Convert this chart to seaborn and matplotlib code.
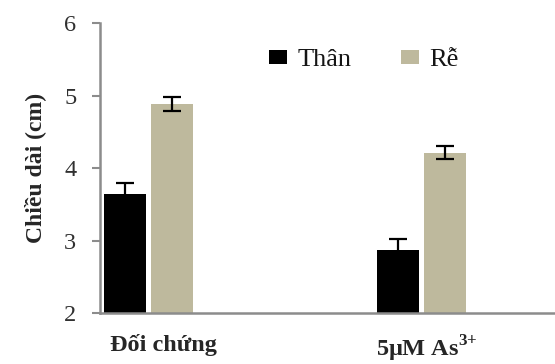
import matplotlib
matplotlib.use("Agg")
import matplotlib.pyplot as plt
import matplotlib.transforms as mtransforms
import seaborn as sns
import pandas as pd
import numpy as np

# Data
categories = ["Đối chứng", r"5μM As$^{\mathbf{3{+}}}$"]
series_names = ["Thân", "Rễ"]
than_values = [3.64, 2.87]
re_values = [4.88, 4.21]
than_err = [0.15, 0.15]
re_err = [0.10, 0.09]
colors = ["#000000", "#C4BD97"]

df = pd.DataFrame({
    "cat": categories * 2,
    "series": [series_names[0]] * 2 + [series_names[1]] * 2,
    "value": than_values + re_values,
    "err": than_err + re_err,
})

sns.set_style("white")
plt.rcParams["font.family"] = ["Liberation Serif", "DejaVu Serif"]
plt.rcParams["mathtext.fontset"] = "custom"
plt.rcParams["mathtext.rm"] = "Liberation Serif"
plt.rcParams["mathtext.bf"] = "Liberation Serif:bold"

fig = plt.figure(figsize=(5.55, 3.64), dpi=100)
ax = fig.add_axes([100/555, 1-313/364, 455/555, 290/364])

sns.barplot(data=df, x="cat", y="value", hue="series", order=categories,
            hue_order=series_names, palette=colors, width=0.35, gap=0.12,
            errorbar=None, ax=ax, edgecolor="none", linewidth=0)

# error bars at bar centers
for cont, errs in zip(ax.containers, [than_err, re_err]):
    for rect, e in zip(cont, errs):
        xc = rect.get_x() + rect.get_width() / 2
        ax.errorbar(xc, rect.get_height(), yerr=e, fmt="none", ecolor="black",
                    elinewidth=1.6, capsize=6.5, capthick=1.6, zorder=5)

ax.set_ylim(2, 6)
ax.set_yticks([2, 3, 4, 5, 6])
ax.set_xlim(-0.178, 1.489)

for s in ["top", "right"]:
    ax.spines[s].set_visible(False)
for s in ["left", "bottom"]:
    ax.spines[s].set_color("#8c8c8c")
    ax.spines[s].set_linewidth(1.8)

ax.tick_params(axis="y", direction="out", length=6, width=1.5, color="#8c8c8c",
               labelsize=17.5, labelcolor="#303030", pad=11, left=True)
ax.tick_params(axis="x", length=0, pad=15)
ax.set_xticks([0, 1])
ax.set_xticklabels(categories, fontsize=17.5, fontweight="bold")
for lbl, dx in zip(ax.get_xticklabels(), [15, 5]):
    lbl.set_transform(lbl.get_transform() +
                      mtransforms.ScaledTranslation(dx / 100, 0, fig.dpi_scale_trans))
ax.set_xlabel("")
ax.set_ylabel("Chiều dài (cm)", fontsize=17, fontweight="bold")
ax.yaxis.set_label_coords(-0.118, 0.5)

leg = ax.legend(loc="center left", bbox_to_anchor=(0.372, 0.872), frameon=False,
                fontsize=19, handlelength=0.68, handleheight=0.45,
                handletextpad=0.38, columnspacing=1.9, ncol=2,
                borderpad=0, borderaxespad=0)
for t in leg.get_texts():
    t.set_color("#151515")

fig.savefig("out.png", dpi=100)
